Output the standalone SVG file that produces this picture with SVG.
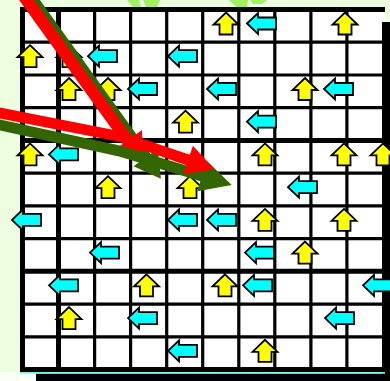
<svg xmlns="http://www.w3.org/2000/svg" width="390" height="381" viewBox="0 0 390 381">
<defs>
<style>
.yl{fill:#ffff00;stroke:#000;stroke-width:1.8;stroke-linejoin:miter}
.cy{fill:#00ffff;stroke:#000;stroke-width:1.8;stroke-linejoin:miter}
.gl{stroke:#000;stroke-width:3.2;fill:none}
.gt{stroke:#000;stroke-width:5;fill:none}
.red{fill:#ff0000}
.grn{fill:#336600}
.lg{fill:#a2ef62}
</style>
<path id="up" d="M0,0 L12.5,12 L6.5,12 L6.5,22 L-6.5,22 L-6.5,12 L-12.5,12 Z"/>
<path id="left" d="M0,0 L11,-10.5 L11,-6 L29,-6 L29,6 L11,6 L11,10.5 Z"/>
</defs>
<rect x="0" y="0" width="390" height="381" fill="#ecfde0"/>
<rect x="0" y="372" width="390" height="9" fill="#f9fff4"/>
<g id="decor-top">
<polygon class="lg" points="127,0 139,0 141,7 133,7"/>
<polygon class="lg" points="143,0 160,0 157,7 146,7"/>
<path class="lg" d="M229,0 L248,0 L247,7 L236,7 Z"/>
<path class="lg" d="M250,0 L267,0 L262,4 L253,4 Z"/>
</g>
<g id="frame">
<rect x="382" y="22" width="8" height="359" fill="#000"/>
<rect x="36" y="373.5" width="354" height="8" fill="#000"/>
<rect x="20" y="7" width="365" height="365" fill="#fff"/>
<rect x="382" y="22" width="3" height="350" fill="#000"/>
<rect x="20" y="372" width="365" height="1.7" fill="#80f2ea"/>
</g>
<g id="grid">
<path class="gl" d="M94.6,9.5V369.5 M130.6,9.5V369.5 M166.7,9.5V369.5 M202.7,9.5V369.5 M238.8,9.5V369.5 M274.8,9.5V369.5 M310.9,9.5V369.5 M346.9,9.5V369.5"/>
<path class="gl" d="M22,42.2H383 M22,75H383 M22,107.7H383 M22,173.2H383 M22,205.9H383 M22,238.6H383 M22,304.1H383 M22,336.8H383"/>
<path class="gt" d="M58.5,9.5V369.5 M22,140.4H383 M22,271.3H383"/>
<path class="gt" d="M22.5,7V372 M20,9.5H385 M20,369.5H385"/>
</g>
<g id="up-arrows">
<use href="#up" class="yl" x="226" y="12.5"/>
<use href="#up" class="yl" x="345" y="12.5"/>
<use href="#up" class="yl" x="30" y="45.2"/>
<use href="#up" class="yl" x="69" y="45.2"/>
<use href="#up" class="yl" x="69" y="78"/>
<use href="#up" class="yl" x="108" y="78"/>
<use href="#up" class="yl" x="305" y="78"/>
<use href="#up" class="yl" x="185.5" y="110.7"/>
<use href="#up" class="yl" x="30" y="143.4"/>
<use href="#up" class="yl" x="265" y="143.4"/>
<use href="#up" class="yl" x="344" y="143.4"/>
<use href="#up" class="yl" x="383" y="143.4"/>
<use href="#up" class="yl" x="108" y="176.2"/>
<use href="#up" class="yl" x="190" y="176.2"/>
<use href="#up" class="yl" x="265" y="208.9"/>
<use href="#up" class="yl" x="344" y="208.9"/>
<use href="#up" class="yl" x="305" y="241.6"/>
<use href="#up" class="yl" x="146.5" y="274.3"/>
<use href="#up" class="yl" x="225" y="274.3"/>
<use href="#up" class="yl" x="69" y="307.1"/>
<use href="#up" class="yl" x="265" y="339.8"/>
</g>
<g id="left-arrows">
<use href="#left" class="cy" x="247" y="23.5"/>
<use href="#left" class="cy" x="88" y="56.2"/>
<use href="#left" class="cy" x="168" y="56.2"/>
<use href="#left" class="cy" x="128" y="89"/>
<use href="#left" class="cy" x="207" y="89"/>
<use href="#left" class="cy" x="324" y="89"/>
<use href="#left" class="cy" x="247" y="121.7"/>
<use href="#left" class="cy" x="49" y="154.4"/>
<use href="#left" class="cy" x="288" y="187.2"/>
<use href="#left" class="cy" x="12" y="219.9"/>
<use href="#left" class="cy" x="168" y="219.9"/>
<use href="#left" class="cy" x="207" y="219.9"/>
<use href="#left" class="cy" x="90" y="252.6"/>
<use href="#left" class="cy" x="245" y="252.6"/>
<use href="#left" class="cy" x="49" y="285.3"/>
<use href="#left" class="cy" x="243" y="285.3"/>
<use href="#left" class="cy" x="363" y="285.3"/>
<use href="#left" class="cy" x="128" y="318.1"/>
<use href="#left" class="cy" x="325" y="318.1"/>
<use href="#left" class="cy" x="168" y="350.8"/>
</g>
<g id="connectors">
<polygon class="grn" transform="translate(32.5,0) rotate(54.3)" points="-30,-6 194,-6 194,-15 220,0 194,15 194,6 -30,6"/>
<polygon class="red" transform="translate(26.5,0) rotate(54.3)" points="-30,-6 173,-6 173,-18 199,0 173,18 173,6 -30,6"/>
<polygon class="grn" points="-5,118.5 121,145.7 203.6,170.7 206.7,160.7 231.7,185 197.3,191.3 200.4,181.3 119,156.4 -5,129.3"/>
<polygon class="red" points="-5,106.6 120.5,131.2 189.8,154.8 192.9,145.8 214.5,169.2 183.1,174.2 186.2,165.2 119.5,141.8 -5,117.4"/>
</g>
</svg>
